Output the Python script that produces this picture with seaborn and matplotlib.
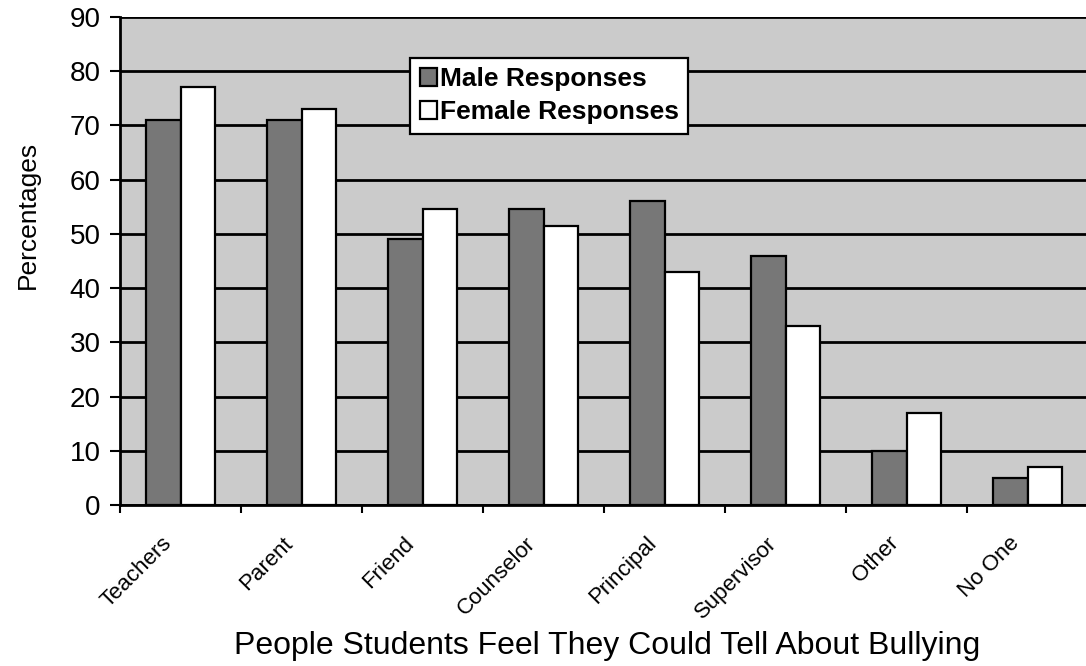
import matplotlib
matplotlib.use("Agg")
import matplotlib.pyplot as plt
import matplotlib.transforms as mtransforms
from matplotlib.ticker import FixedLocator
import numpy as np
import pandas as pd
import seaborn as sns

# Survey results: who students feel they could tell about bullying (%)
categories = ["Teachers", "Parent", "Friend", "Counselor", "Principal",
              "Supervisor", "Other", "No One"]
male_pct = [71, 71, 49, 54.5, 56, 46, 10, 5]
female_pct = [77, 73, 54.5, 51.5, 43, 33, 17, 7]
series_names = ["Male Responses", "Female Responses"]
y_ticks = [0, 10, 20, 30, 40, 50, 60, 70, 80, 90]

df = pd.DataFrame({
    "Category": categories * 2,
    "Group": [series_names[0]] * len(categories) + [series_names[1]] * len(categories),
    "Value": male_pct + female_pct,
})

sns.set_style("white")
plt.rcParams["font.family"] = ["Liberation Sans", "DejaVu Sans"]
plt.rcParams.update({
    "text.color": "black",
    "axes.labelcolor": "black",
    "xtick.color": "black",
    "ytick.color": "black",
})

fig = plt.figure(figsize=(10.86, 6.66), dpi=100)
ax = fig.add_axes([0.1105, 0.2417, 0.8915, 0.7328])
ax.set_facecolor("#cbcbcb")

palette = {series_names[0]: "#777777", series_names[1]: "#ffffff"}
sns.barplot(data=df, x="Category", y="Value", hue="Group", order=categories,
            hue_order=series_names, palette=palette, width=0.575, gap=0,
            edgecolor="black", linewidth=1.6, saturation=1, ax=ax, zorder=3)

# Horizontal gridlines behind the bars
ax.set_axisbelow(True)
ax.set_ylim(0, 90)
ax.set_yticks(y_ticks)
ax.yaxis.grid(True, color="black", linewidth=2)
ax.xaxis.grid(False)
ax.set_xlim(-0.5, len(categories) - 0.5)

for side in ("top", "right"):
    ax.spines[side].set_visible(False)
for side in ("left", "bottom"):
    ax.spines[side].set_color("black")
    ax.spines[side].set_linewidth(2)

ax.tick_params(axis="y", which="major", left=True, length=7, width=1.5,
               pad=7, labelsize=20)
ax.tick_params(axis="x", which="major", bottom=True, length=0, pad=20,
               labelsize=16)
ax.xaxis.set_minor_locator(FixedLocator(np.arange(-0.5, len(categories), 1.0)))
ax.tick_params(axis="x", which="minor", bottom=True, length=6, width=1.5)

ax.set_xticks(range(len(categories)))
ax.set_xticklabels(categories, rotation=45, ha="right", va="top",
                   rotation_mode="anchor")
shift = mtransforms.ScaledTranslation(-19 / 100, 0, fig.dpi_scale_trans)
for lbl in ax.get_xticklabels():
    lbl.set_transform(lbl.get_transform() + shift)

ax.set_ylabel("Percentages", fontsize=19)
ax.yaxis.set_label_coords(-0.083, 0.594)
ax.set_xlabel("People Students Feel They Could Tell About Bullying", fontsize=23)
ax.xaxis.set_label_coords(0.503, -0.258)

leg = ax.legend(loc="upper left", bbox_to_anchor=(0.300, 0.916),
                borderaxespad=0, frameon=True, fancybox=False,
                prop={"weight": "bold", "size": 19}, handlelength=0.65,
                handleheight=0.65, handletextpad=0.12, borderpad=0.35,
                labelspacing=0.35, title=None)
leg.get_frame().set_edgecolor("black")
leg.get_frame().set_linewidth(1.6)
leg.get_frame().set_facecolor("white")
leg.get_frame().set_alpha(1)

fig.savefig("out.png", dpi=100)
